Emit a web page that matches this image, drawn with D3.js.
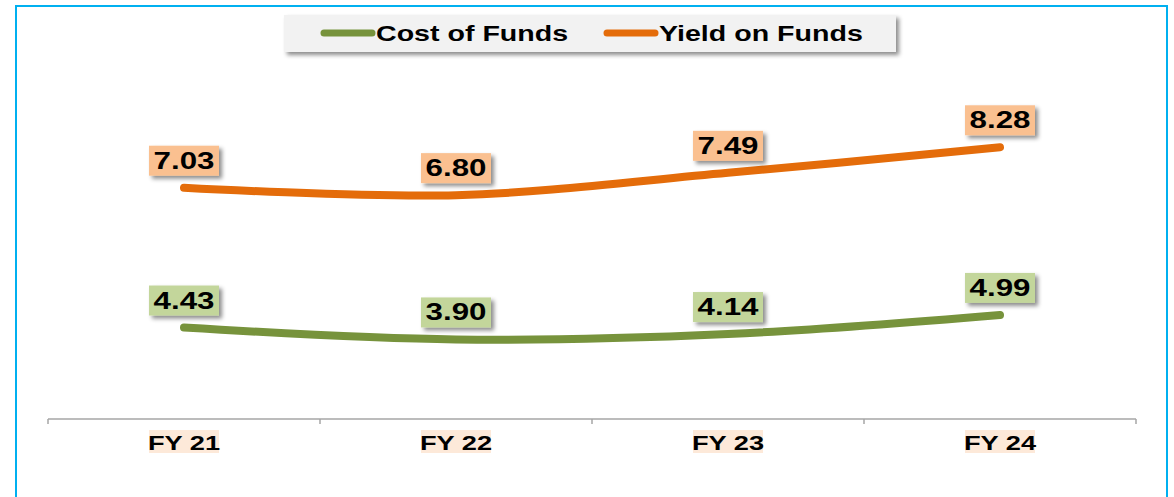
<!DOCTYPE html>
<html>
<head>
<meta charset="utf-8">
<script src="https://cdn.jsdelivr.net/npm/d3@7"></script>
<style>
  body { margin: 0; background: #fff; }
  svg text { font-family: "Liberation Sans", Arial, sans-serif; font-weight: bold; }
</style>
</head>
<body>
<div id="chart"></div>
<script>
var w = 1174, h = 497;

// data
var years = ["FY 21", "FY 22", "FY 23", "FY 24"];
var costOfFunds = [4.43, 3.90, 4.14, 4.99];
var yieldOnFunds = [7.03, 6.80, 7.49, 8.28];
var seriesNames = ["Cost of Funds", "Yield on Funds"];

var green = "#77933C", orange = "#E46C0A";
var greenLight = "#C3D69B", orangeLight = "#FAC090";
var stretch = 1.36; // the original picture is widened

var svg = d3.select("#chart").append("svg")
  .attr("width", w)
  .attr("height", h);

var defs = svg.append("defs");
var f = defs.append("filter").attr("id", "shadow")
  .attr("x", "-20%").attr("y", "-20%").attr("width", "150%").attr("height", "160%");
f.append("feDropShadow")
  .attr("dx", 3).attr("dy", 3).attr("stdDeviation", 2)
  .attr("flood-color", "#000").attr("flood-opacity", 0.45);

// outer border
svg.append("rect")
  .attr("x", 16).attr("y", 6)
  .attr("width", 1151).attr("height", 520)
  .attr("fill", "none")
  .attr("stroke", "#00B0F0")
  .attr("stroke-width", 2);

var x = d3.scaleBand().domain(years).range([48, 1136]);

// two value axes (primary for yield, secondary for cost)
var yYield = d3.scaleLinear().domain([6, 9]).range([221, 124]);
var yCost = d3.scaleLinear().domain([3, 6]).range([359.7, 292.2]);

// category axis
var axisY = 419;
var xAxis = svg.append("g")
  .attr("transform", "translate(0," + axisY + ")");
xAxis.append("line")
  .attr("x1", 48).attr("x2", 1136)
  .attr("stroke", "#A6A6A6").attr("stroke-width", 1.5);
var tickPos = years.map(function(d) { return x(d); }).concat([x.range()[1]]);
xAxis.selectAll(".tick").data(tickPos).enter().append("line")
  .attr("x1", function(d) { return d; })
  .attr("x2", function(d) { return d; })
  .attr("y1", 0).attr("y2", 5)
  .attr("stroke", "#A6A6A6").attr("stroke-width", 1.5);

var tickLab = xAxis.selectAll(".lab").data(years).enter().append("g")
  .attr("transform", function(d) { return "translate(" + (x(d) + x.bandwidth() / 2) + ",0)"; });
tickLab.append("rect")
  .attr("x", -35).attr("y", 11)
  .attr("width", 70).attr("height", 23)
  .attr("fill", "#FDE9D9");
tickLab.append("text")
  .attr("text-anchor", "middle")
  .attr("transform", "translate(0,31) scale(" + stretch + ",1)")
  .attr("font-size", "20px")
  .attr("fill", "#000")
  .text(function(d) { return d; });

function drawSeries(values, yScale, color, light) {
  var pts = values.map(function(v, i) { return [x(years[i]) + x.bandwidth() / 2, yScale(v)]; });
  var line = d3.line().curve(d3.curveCatmullRom.alpha(0.5));
  svg.append("path")
    .attr("d", line(pts))
    .attr("fill", "none")
    .attr("stroke", color)
    .attr("stroke-width", 8)
    .attr("stroke-linecap", "round");

  var lab = svg.selectAll(null).data(values).enter().append("g")
    .attr("transform", function(d, i) { return "translate(" + pts[i][0] + "," + (pts[i][1] - 27) + ")"; });
  lab.append("rect")
    .attr("x", -35).attr("y", -15)
    .attr("width", 70).attr("height", 30)
    .attr("fill", light)
    .attr("filter", "url(#shadow)");
  lab.append("text")
    .attr("text-anchor", "middle")
    .attr("transform", "translate(0,8) scale(" + stretch + ",1)")
    .attr("font-size", "23px")
    .attr("fill", "#000")
    .text(function(d) { return d.toFixed(2); });
}

drawSeries(yieldOnFunds, yYield, orange, orangeLight);
drawSeries(costOfFunds, yCost, green, greenLight);

// legend
var legend = svg.append("g");
legend.append("rect")
  .attr("x", 284).attr("y", 15)
  .attr("width", 612).attr("height", 37)
  .attr("fill", "#F2F2F2")
  .attr("filter", "url(#shadow)");
var legItems = [
  { name: seriesNames[0], color: green, x0: 324 },
  { name: seriesNames[1], color: orange, x0: 607 }
];
legItems.forEach(function(it) {
  legend.append("line")
    .attr("x1", it.x0).attr("x2", it.x0 + 48)
    .attr("y1", 33).attr("y2", 33)
    .attr("stroke", it.color)
    .attr("stroke-width", 7)
    .attr("stroke-linecap", "round");
  legend.append("text")
    .attr("transform", "translate(" + (it.x0 + 52) + ",41) scale(1.3,1)")
    .attr("font-size", "22px")
    .attr("fill", "#000")
    .text(it.name);
});
</script>
</body>
</html>
